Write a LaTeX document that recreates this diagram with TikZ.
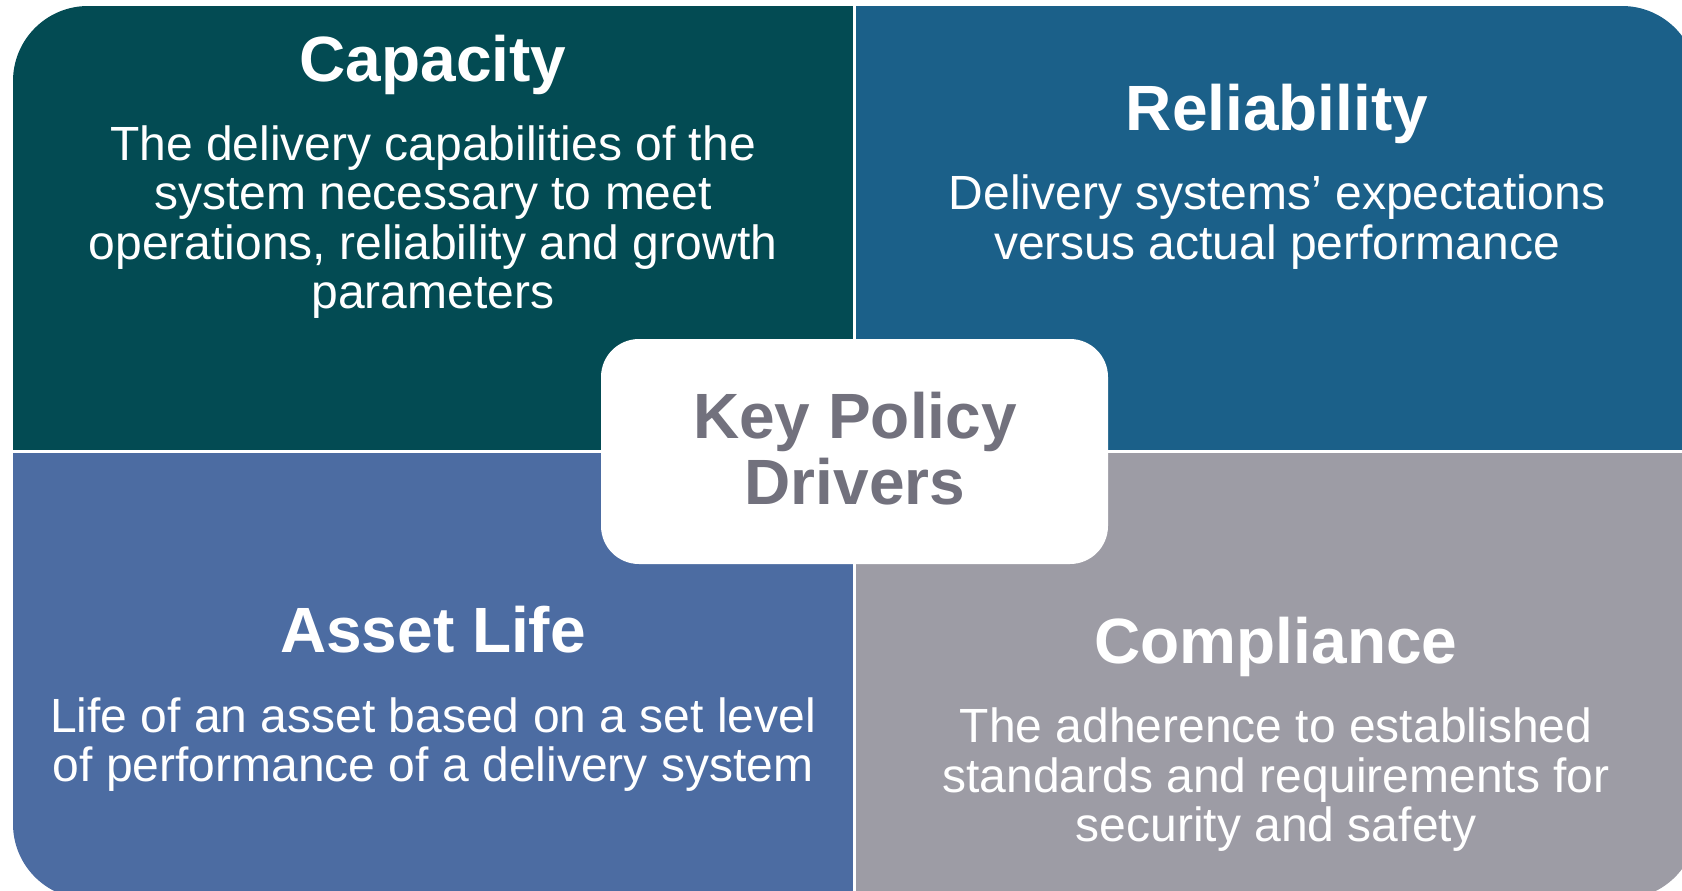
\documentclass[tikz,border=0pt]{standalone}
\usepackage{fontspec}
\setmainfont{Liberation Sans}
\definecolor{capc}{HTML}{034B53}
\definecolor{relc}{HTML}{1B6089}
\definecolor{assc}{HTML}{4C6CA2}
\definecolor{comc}{HTML}{9D9CA5}
\definecolor{keyc}{HTML}{72717D}
\begin{document}
\begin{tikzpicture}[x=1pt,y=-1pt,
  titletext/.style={font=\fontsize{64}{66}\selectfont\bfseries, text=white, inner sep=0pt, anchor=base},
  bodytext/.style={font=\fontsize{48}{49.3}\selectfont, text=white, inner sep=0pt, anchor=north, align=center},
  keybox/.style={fill=white, rounded corners=38pt, minimum width=507pt, minimum height=225pt, inner sep=0pt},
  keytext/.style={font=\fontsize{64}{66}\selectfont\bfseries, text=keyc, inner sep=0pt, anchor=north, align=center}
]
\useasboundingbox (0,0) rectangle (1682,891);
\begin{scope}
  \clip[rounded corners=75pt] (13,6) rectangle (1697,899);
  \fill[capc] (13,6) rectangle (853,450);
  \fill[relc] (856,6) rectangle (1697,450);
  \fill[assc] (13,453) rectangle (853,899);
  \fill[comc] (856,453) rectangle (1697,899);
\end{scope}
\node[keybox] (key) at (854.5,451.5) {};
\node[keytext] (keyt) at (855,392) {Key Policy\\Drivers};

\node[titletext] (capt) at (433,81.7) {Capacity};
\node[bodytext] (capb) at (433,125.6) {The delivery capabilities of the\\system necessary to meet\\operations, reliability and growth\\parameters};

\node[titletext] (relt) at (1277,130) {Reliability};
\node[bodytext] (relb) at (1277,174.8) {Delivery systems’ expectations\\versus actual performance};

\node[titletext] (asst) at (433,652) {Asset Life};
\node[bodytext] (assb) at (433,697.5) {Life of an asset based on a set level\\of performance of a delivery system};

\node[titletext] (comt) at (1276,663) {Compliance};
\node[bodytext] (comb) at (1276,708) {The adherence to established\\standards and requirements for\\security and safety};
\end{tikzpicture}
\end{document}
